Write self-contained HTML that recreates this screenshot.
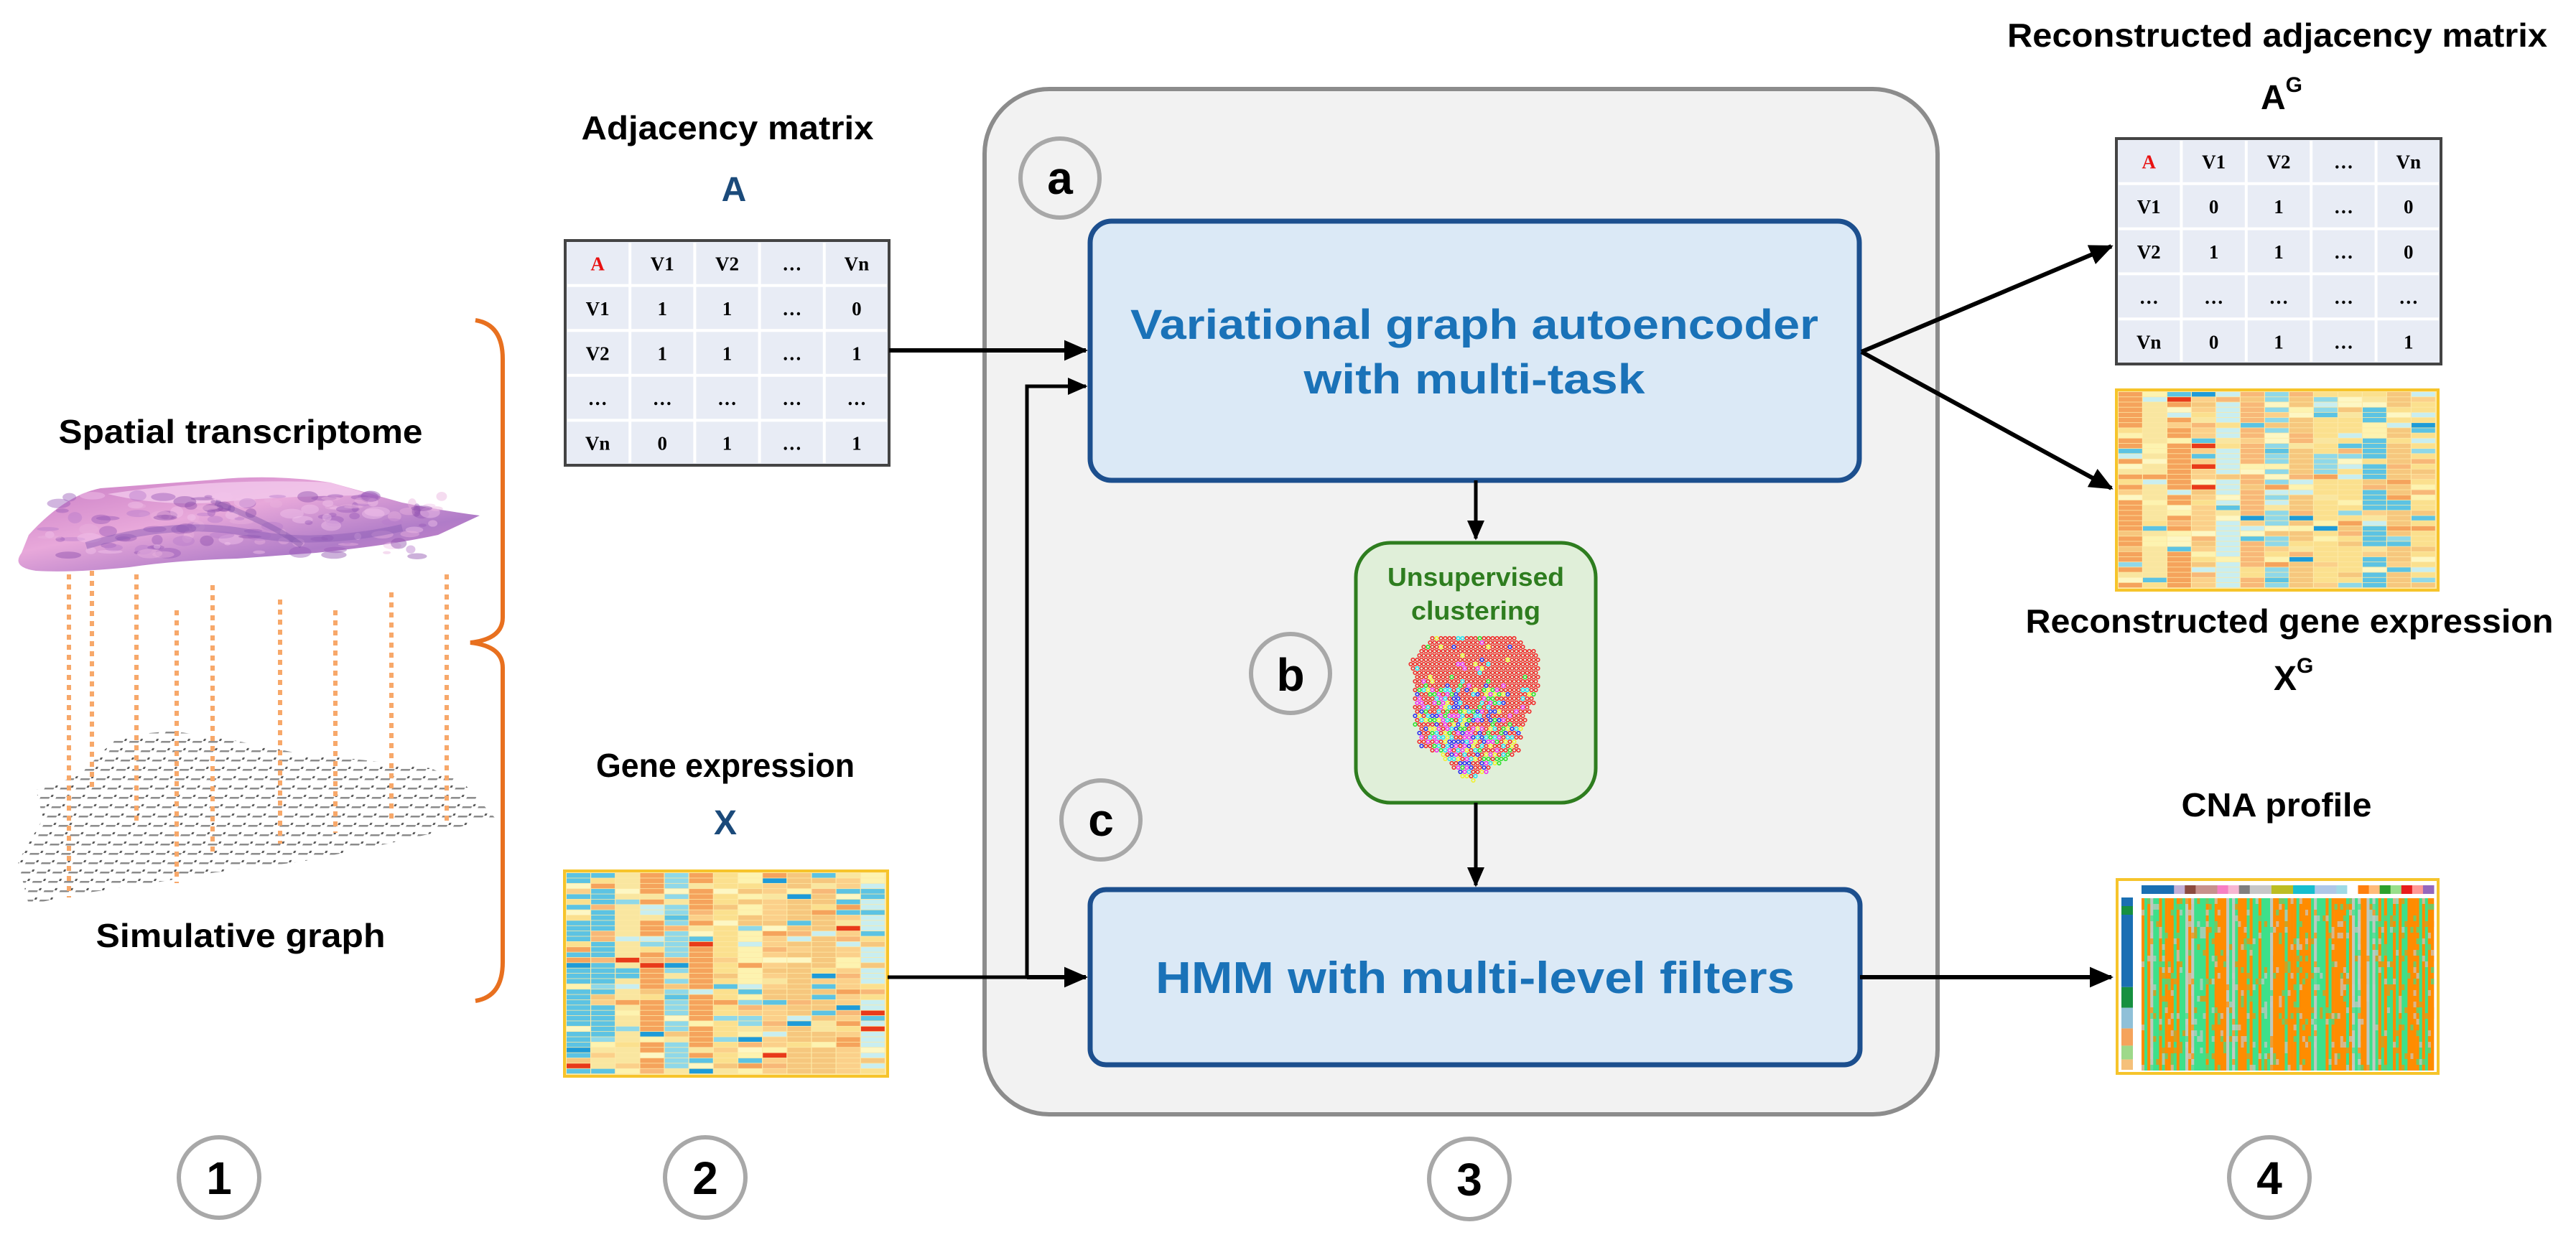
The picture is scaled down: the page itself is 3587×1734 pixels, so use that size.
<!DOCTYPE html>
<html><head><meta charset="utf-8"><style>
html,body{margin:0;padding:0;background:#fff;}
svg{display:block;}
text{font-family:"Liberation Sans",sans-serif;font-weight:bold;}
.m{font-family:"Liberation Serif",serif;font-weight:bold;font-size:27px;text-anchor:middle;}
</style></head><body>
<svg id="s" xmlns="http://www.w3.org/2000/svg" width="3587" height="1734" viewBox="0 0 3587 1734">
<defs>
<marker id="ar" markerWidth="6" markerHeight="6" refX="5" refY="3" orient="auto" markerUnits="strokeWidth"><path d="M0,0.6 L5.5,3 L0,5.4 z" fill="#000"/></marker>
<pattern id="grid" width="22" height="13" patternUnits="userSpaceOnUse" patternTransform="skewX(-25)">
<rect x="0" y="0" width="22" height="13" fill="#fff"/>
<rect x="2" y="5" width="13" height="2.5" fill="#888"/>
<rect x="16" y="2" width="3" height="3" fill="#555"/>
</pattern>
<linearGradient id="tis" x1="0" y1="0" x2="1" y2="1">
<stop offset="0" stop-color="#c77bc4"/><stop offset="0.4" stop-color="#e8a8da"/><stop offset="0.7" stop-color="#b07cc8"/><stop offset="1" stop-color="#d887c9"/>
</linearGradient>
</defs>

<!-- left: tissue -->
<text x="335" y="617" font-size="46" text-anchor="middle" textLength="507" lengthAdjust="spacingAndGlyphs">Spatial transcriptome</text>
<path d="M40,745 Q90,690 140,680 L300,668 Q380,660 460,672 L560,700 Q620,712 668,718 L610,745 Q540,760 440,770 L330,778 Q250,780 180,790 Q100,798 50,795 Q15,790 30,770 Z" fill="url(#tis)"/>
<path d="M150,688 Q300,665 460,672 L520,690 Q400,690 300,700 Q220,705 150,688 Z" fill="#f3c9ec" opacity="0.8"/>
<g id="blot"></g>
<path d="M120,760 Q250,720 360,745 Q450,760 560,735" stroke="#8f5fb8" stroke-width="10" fill="none" opacity="0.5"/>
<path d="M300,700 Q380,730 420,760" stroke="#7b4fa8" stroke-width="8" fill="none" opacity="0.4"/>
<!-- graph -->
<polygon points="165,1025 240,1018 330,1032 420,1050 520,1060 600,1070 645,1090 690,1140 540,1175 420,1200 300,1215 200,1232 110,1245 40,1260 25,1200 60,1140 50,1100 110,1080" fill="url(#grid)"/>
<g id="odots" stroke="#f7a86a" stroke-width="6" stroke-dasharray="7 7"></g>
<text x="335" y="1319" font-size="46" text-anchor="middle" textLength="403" lengthAdjust="spacingAndGlyphs">Simulative graph</text>
<!-- brace -->
<path d="M662,446 Q700,452 700,500 L700,860 Q700,890 655,895 Q700,900 700,930 L700,1340 Q700,1388 662,1394" stroke="#e8701f" stroke-width="6" fill="none"/>

<!-- adjacency matrix A -->
<text x="1013" y="194" font-size="46" text-anchor="middle" textLength="407" lengthAdjust="spacingAndGlyphs">Adjacency matrix</text>
<text x="1022" y="280" font-size="48" text-anchor="middle" fill="#1b4a7a">A</text>
<g id="m1"></g>

<!-- gene expression X -->
<text x="1010" y="1082" font-size="46" text-anchor="middle" textLength="360" lengthAdjust="spacingAndGlyphs">Gene expression</text>
<text x="1010" y="1162" font-size="48" text-anchor="middle" fill="#1b4a7a">X</text>
<g id="h1"></g>

<!-- center box -->
<rect x="1371" y="124" width="1327" height="1428" rx="90" ry="90" fill="#f2f2f2" stroke="#8c8c8c" stroke-width="6"/>
<rect x="1518" y="308" width="1071" height="361" rx="30" fill="#dbe9f6" stroke="#1c4f8e" stroke-width="7"/>
<text x="2053" y="472" font-size="58" text-anchor="middle" fill="#1a72b8" textLength="958" lengthAdjust="spacingAndGlyphs">Variational graph autoencoder</text>
<text x="2053" y="548" font-size="58" text-anchor="middle" fill="#1a72b8" textLength="475" lengthAdjust="spacingAndGlyphs">with multi-task</text>
<rect x="1518" y="1239" width="1072" height="244" rx="22" fill="#dbe9f6" stroke="#1c4f8e" stroke-width="7"/>
<text x="2054" y="1383" font-size="62" text-anchor="middle" fill="#1a72b8" textLength="890" lengthAdjust="spacingAndGlyphs">HMM with multi-level filters</text>
<rect x="1888" y="756" width="334" height="362" rx="48" fill="#e0efd9" stroke="#2e7d1f" stroke-width="5"/>
<text x="2055" y="816" font-size="36" text-anchor="middle" fill="#2e7d1f" textLength="246" lengthAdjust="spacingAndGlyphs">Unsupervised</text>
<text x="2055" y="863" font-size="36" text-anchor="middle" fill="#2e7d1f" textLength="180" lengthAdjust="spacingAndGlyphs">clustering</text>
<g id="clus"></g>

<!-- circles -->
<g stroke="#a8a8a8" stroke-width="6" fill="#f2f2f2">
<circle cx="1476" cy="248" r="55"/><circle cx="1797" cy="938" r="55"/><circle cx="1533" cy="1142" r="55"/>
</g>
<g stroke="#a8a8a8" stroke-width="6" fill="#fff">
<circle cx="305" cy="1640" r="56"/><circle cx="982" cy="1640" r="56"/><circle cx="2046" cy="1642" r="56"/><circle cx="3160" cy="1640" r="56"/>
</g>
<g font-size="64" text-anchor="middle">
<text x="1476" y="270">a</text><text x="1797" y="962">b</text><text x="1533" y="1164">c</text>
<text x="305" y="1663">1</text><text x="982" y="1663">2</text><text x="2046" y="1665">3</text><text x="3160" y="1663">4</text>
</g>

<!-- arrows -->
<g stroke="#000" stroke-width="6" fill="none">
<line x1="1238" y1="488" x2="1512" y2="488" marker-end="url(#ar)"/>
<polyline points="1236,1361 1430,1361 1430,538 1512,538" marker-end="url(#ar)" stroke-width="5"/>
<line x1="1430" y1="1361" x2="1512" y2="1361" marker-end="url(#ar)"/>
<line x1="2055" y1="669" x2="2055" y2="750" marker-end="url(#ar)" stroke-width="5"/>
<line x1="2055" y1="1118" x2="2055" y2="1233" marker-end="url(#ar)" stroke-width="5"/>
<line x1="2590" y1="1361" x2="2940" y2="1361" marker-end="url(#ar)"/>
<line x1="2592" y1="490" x2="2940" y2="343" marker-end="url(#ar)"/>
<line x1="2592" y1="490" x2="2940" y2="680" marker-end="url(#ar)"/>
</g>

<!-- right -->
<text x="3171" y="65" font-size="46" text-anchor="middle" textLength="752" lengthAdjust="spacingAndGlyphs">Reconstructed adjacency matrix</text>
<text x="3148" y="152" font-size="48">A<tspan font-size="30" dy="-24">G</tspan></text>
<g id="m2"></g>
<g id="h2"></g>
<text x="3188" y="881" font-size="46" text-anchor="middle" textLength="735" lengthAdjust="spacingAndGlyphs">Reconstructed gene expression</text>
<text x="3166" y="961" font-size="48">X<tspan font-size="30" dy="-24">G</tspan></text>
<text x="3170" y="1137" font-size="46" text-anchor="middle" textLength="265" lengthAdjust="spacingAndGlyphs">CNA profile</text>
<g id="cna"></g>
</svg>
<script>
var NS="http://www.w3.org/2000/svg";
function el(p,t,a,txt){var e=document.createElementNS(NS,t);for(var k in a)e.setAttribute(k,a[k]);if(txt!=null)e.textContent=txt;p.appendChild(e);return e;}
var seed=12345;function r(){seed=(seed*1103515245+12345)%2147483648;return seed/2147483648;}
function matrix(id,x,y,w,h,data){
 var g=document.getElementById(id);
 el(g,"rect",{x:x,y:y,width:w,height:h,fill:"#e8ecf5",stroke:"#444",'stroke-width':4});
 var cw=w/5,rh=h/5;
 for(var i=1;i<5;i++){el(g,"line",{x1:x+i*cw,y1:y+3,x2:x+i*cw,y2:y+h-3,stroke:"#fff","stroke-width":4});
  el(g,"line",{x1:x+3,y1:y+i*rh,x2:x+w-3,y2:y+i*rh,stroke:"#fff","stroke-width":4});}
 for(var rr=0;rr<5;rr++)for(var c=0;c<5;c++){
  var t=el(g,"text",{x:x+c*cw+cw/2,y:y+rr*rh+rh/2+10,"class":"m"},data[rr][c]);
  if(rr==0&&c==0)t.setAttribute("fill","#e81010");}
}
var hdr=["A","V1","V2","…","Vn"];
matrix("m1",787,335,451,313,[hdr,["V1","1","1","…","0"],["V2","1","1","…","1"],["…","…","…","…","…"],["Vn","0","1","…","1"]]);
matrix("m2",2947,193,452,314,[hdr,["V1","0","1","…","0"],["V2","1","1","…","0"],["…","…","…","…","…"],["Vn","0","1","…","1"]]);
function heat(id,x,y,w,h){
 var g=document.getElementById(id);
 el(g,"rect",{x:x,y:y,width:w,height:h,fill:"#fde9a6",stroke:"#f6c42b","stroke-width":4});
 var cols=13,rows=38,cw=(w-6)/cols,rh=(h-6)/rows;
 var pal=["#fdf3b0","#fbe08e","#fbd08a","#f8b878","#f5a35c","#c9eef0","#8fd8e8","#5cc3e3","#f9e6a0","#fdf7c4","#f6c77e"];
 for(var c=0;c<cols;c++){var base=Math.floor(r()*pal.length);
  for(var j=0;j<rows;j++){var v=r();var col=v<0.55?pal[base]:pal[Math.floor(r()*pal.length)];
   if(r()<0.01)col="#e83a1a";if(r()<0.015)col="#1e9bd8";
   el(g,"rect",{x:x+3+c*cw,y:y+3+j*rh,width:cw-1.2,height:rh-0.8,fill:col});}}
}
heat("h1",786,1213,450,286);
heat("h2",2947,543,448,279);
(function(){var g=document.getElementById("cna");var x=2948,y=1225,w=447,h=270;
 el(g,"rect",{x:x,y:y,width:w,height:h,fill:"#fff",stroke:"#f6c42b","stroke-width":4});
 var top=["#1a6fb3","#1a6fb3","#1a6fb3","#c4afd6","#8c4a3e","#c7918c","#c7918c","#f77fc3","#f7b6d2","#7f7f7f","#c7c7c7","#c7c7c7","#bcbd22","#bcbd22","#17becf","#17becf","#aec7e8","#aec7e8","#9edae5","#fff","#ff7f0e","#ffbb78","#2ca02c","#98df8a","#e81c1c","#ff9896","#9467bd"];
 var tw=(w-40)/top.length;for(var i=0;i<top.length;i++)el(g,"rect",{x:x+34+i*tw,y:y+8,width:tw+0.5,height:12,fill:top[i]});
 var side=[["#1a6fb3",0.05],["#169040",0.05],["#1a6fb3",0.42],["#169040",0.12],["#8fc0d8",0.12],["#f5a35c",0.1],["#9ed98a",0.08],["#f5c07a",0.06]];
 var sy=y+25;for(var i=0;i<side.length;i++){var hh=side[i][1]*(h-30);el(g,"rect",{x:x+6,y:sy,width:16,height:hh,fill:side[i][0]});sy+=hh;}
 var n=100,cw=(w-40)/n;
 for(var c=0;c<n;c++){var t=r();var base=t<0.45?"#ff8c00":(t<0.85?"#3de08a":"#c0c8c0");
  el(g,"rect",{x:x+34+c*cw,y:y+26,width:cw+0.3,height:h-30,fill:base});
  for(var j=0;j<30;j++){if(r()<0.22){var o=r();el(g,"rect",{x:x+34+c*cw,y:y+26+j*(h-30)/30,width:cw+0.3,height:(h-30)/30,fill:o<0.33?"#ff8c00":(o<0.66?"#3de08a":"#c8c8c8"),opacity:0.7});}}}
})();
(function(){var g=document.getElementById("clus");var cols=["#f03030","#f03030","#f03030","#3030f0","#30e0f0","#f0f030","#30e030","#f030f0"];
 for(var yy=889;yy<1093;yy+=6)for(var xx=1958;xx<2150;xx+=6){
  var t=(yy-889)/204;var lx=1963+20*t*t, rx=2145-60*Math.max(0,t-0.3)-10*t;
  if(t>0.75){lx=1990+60*(t-0.75)/0.25;rx=2120-80*(t-0.75)/0.25;}
  if(t<0.12){lx=1990-20*t/0.12;rx=2110+30*t/0.12;}
  if(xx<lx||xx>rx)continue;
  var c=t<0.35?(r()<0.8?"#f03030":cols[Math.floor(r()*8)]):cols[Math.floor(r()*8)];
  if(t<0.6&&xx>2090&&r()<0.7)c="#f03030";
  el(g,"circle",{cx:xx+((yy/6)%2)*3,cy:yy,r:2.3,fill:"none",stroke:c,"stroke-width":1.6});}
})();
(function(){var g=document.getElementById("blot");var cs=["#9a5cb8","#b77ccc","#f2c4ea","#8e4fae","#e9b2de"];
 for(var i=0;i<160;i++){var x=60+r()*560,y=690+r()*85;if(x>600&&y>740)continue;if(x<80&&y<730)continue;
  el(g,"ellipse",{cx:x,cy:y,rx:4+r()*14,ry:2+r()*6,fill:cs[Math.floor(r()*cs.length)],opacity:0.45});}})();
(function(){var g=document.getElementById("odots");var L=[[96,800,1250],[128,795,1100],[190,800,1150],[246,850,1230],[296,815,1190],[390,835,1175],[467,850,1160],[545,825,1140],[622,800,1150]];
 L.forEach(function(a){el(g,"line",{x1:a[0],y1:a[1],x2:a[0],y2:a[2]});});})();
</script>
</body></html>
